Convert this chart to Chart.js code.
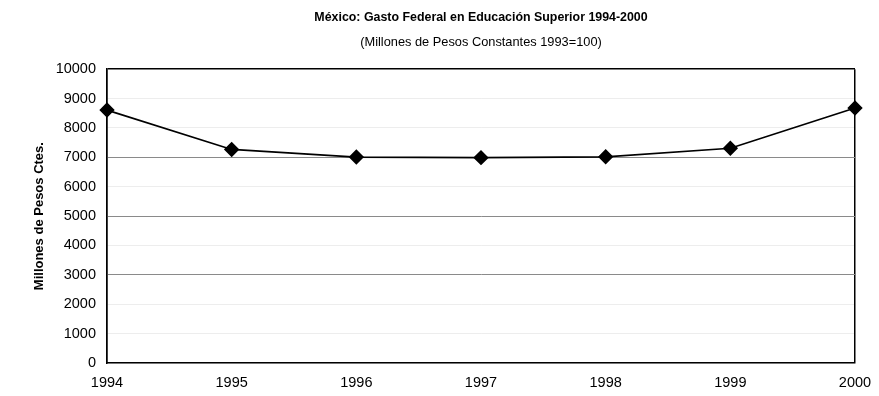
<!DOCTYPE html>
<html>
<head>
<meta charset="utf-8">
<script src="https://cdn.jsdelivr.net/npm/chart.js@4.4.1/dist/chart.umd.min.js"></script>
<style>
  html, body { margin: 0; padding: 0; background: #fff; }
  #wrap { width: 879px; height: 396px; position: relative; }
</style>
</head>
<body>
<div id="wrap"><canvas id="c"></canvas></div>
<script>
// Gasto federal en educación superior, millones de pesos constantes (1993=100)
const years = ['1994', '1995', '1996', '1997', '1998', '1999', '2000'];
const gasto = [8610, 7270, 7010, 6990, 7020, 7310, 8680];
const yTicks = [0, 1000, 2000, 3000, 4000, 5000, 6000, 7000, 8000, 9000, 10000];

const FONT = '"Liberation Sans", Arial, sans-serif';
const strongGrid = [3000, 5000, 7000];

new Chart(document.getElementById('c'), {
  type: 'line',
  data: {
    labels: years,
    datasets: [{
      data: gasto,
      borderColor: '#000',
      borderWidth: 1.7,
      backgroundColor: '#000',
      pointStyle: 'rectRot',
      pointRadius: 6.5,
      pointHoverRadius: 6.5,
      tension: 0,
      fill: false
    }]
  },
  options: {
    responsive: true,
    maintainAspectRatio: false,
    animation: false,
    layout: { padding: { top: 0, right: 24, bottom: 0, left: 0 } },
    plugins: {
      legend: { display: false },
      tooltip: { enabled: false },
      title: {
        display: true,
        fullSize: false,
        text: 'México: Gasto Federal en Educación Superior 1994-2000',
        color: '#000',
        font: { family: FONT, size: 12.4, weight: 'bold' },
        padding: { top: 10, bottom: 4 }
      },
      subtitle: {
        display: true,
        fullSize: false,
        text: '(Millones de Pesos Constantes 1993=100)',
        color: '#000',
        font: { family: FONT, size: 12.8, weight: 'normal' },
        padding: { top: 6, bottom: 19 }
      }
    },
    scales: {
      x: {
        offset: false,
        afterFit: axis => {
          axis.height = 33;
          axis.paddingLeft = 0;
          axis.paddingRight = 0;
        },
        grid: {
          drawTicks: false,
          color: ctx => (ctx.index === 0 || ctx.index === years.length - 1) ? '#000' : 'rgba(0,0,0,0)',
          lineWidth: 1.5
        },
        border: { display: true, color: '#000', width: 1.5 },
        ticks: {
          color: '#000',
          font: { family: FONT, size: 14.5 },
          padding: 11,
          maxRotation: 0
        }
      },
      y: {
        min: 0,
        max: 10000,
        afterBuildTicks: axis => { axis.ticks = yTicks.map(v => ({ value: v })); },
        afterFit: axis => {
          axis.width = 107;
          axis.paddingTop = 0;
          axis.paddingBottom = 0;
        },
        grid: {
          drawTicks: false,
          color: ctx => {
            const v = ctx.tick && ctx.tick.value;
            if (v === 10000) return '#000';
            if (strongGrid.includes(v)) return '#8a8a8a';
            return 'rgba(0,0,0,0.07)';
          },
          lineWidth: ctx => (ctx.tick && ctx.tick.value === 10000) ? 1.5 : 1
        },
        border: { display: true, color: '#000', width: 1.5 },
        ticks: {
          color: '#000',
          font: { family: FONT, size: 14.5 },
          padding: 11,
          callback: v => String(v)
        },
        title: {
          display: true,
          text: 'Millones de Pesos Ctes.',
          color: '#000',
          font: { family: FONT, size: 13, weight: 'bold' },
          padding: { top: 32, bottom: 0 }
        }
      }
    }
  }
});
</script>
</body>
</html>
